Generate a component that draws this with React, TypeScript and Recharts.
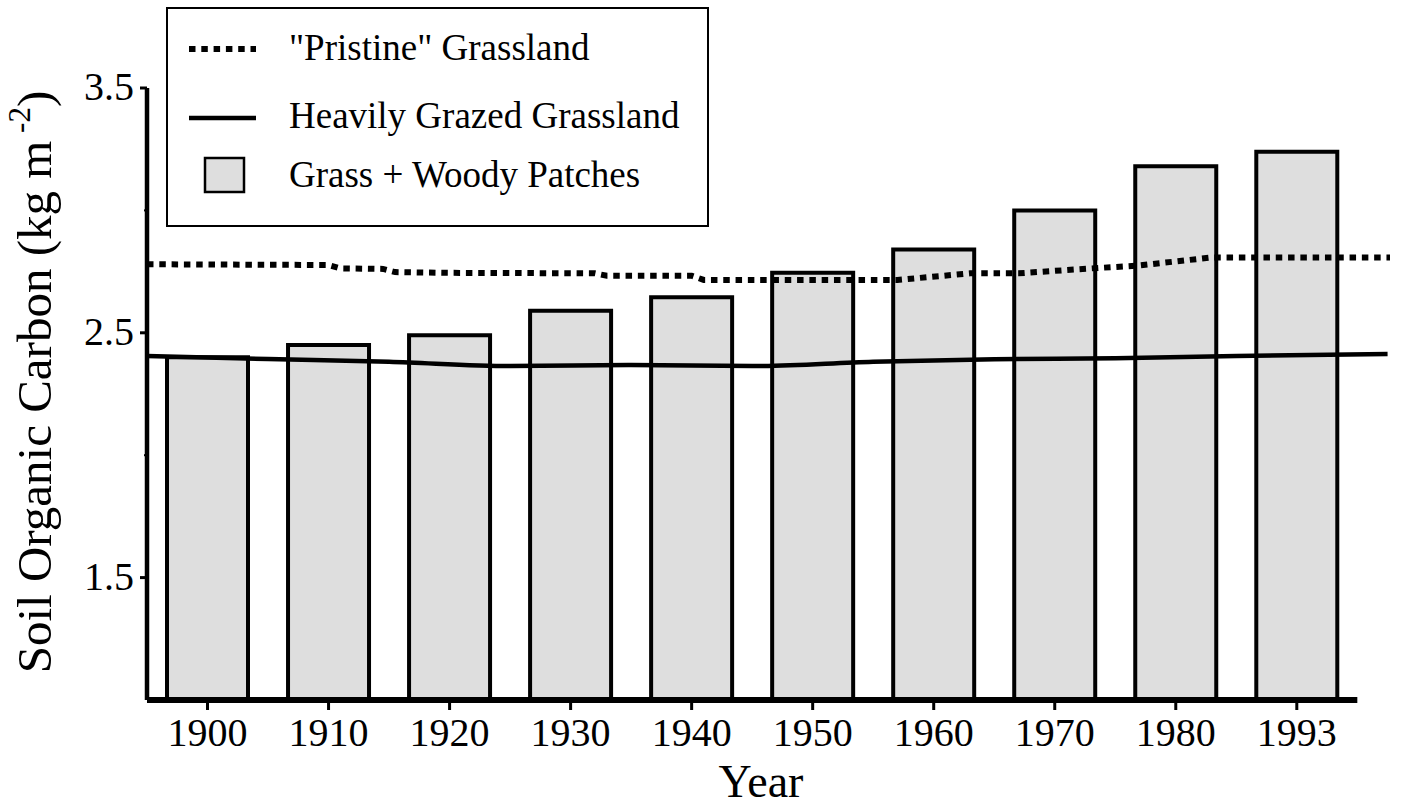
import { ComposedChart, Bar, Line, XAxis, YAxis, Legend, ReferenceLine } from "recharts"

// bar categories (one slot per sampled year)
const yearLabels = ["1900", "1910", "1920", "1930", "1940", "1950", "1960", "1970", "1980", "1993"]
const slotPos = [0, 1, 2, 3, 4, 5, 6, 7, 8, 9]
const woodyCarbon = [2.4, 2.45, 2.49, 2.59, 2.645, 2.745, 2.84, 3.0, 3.18, 3.24]

// "Pristine" grassland trace (x in slot units)
const pristinePos = [-0.5, 1.0, 1.1, 1.45, 1.55, 1.95, 3.2, 3.3, 4.0, 4.1, 5.7, 6.3, 6.7, 7.3, 7.7, 8.3, 9.77]
const pristineCarbon = [2.78, 2.777, 2.763, 2.761, 2.748, 2.745, 2.743, 2.733, 2.733, 2.716, 2.716, 2.743, 2.743, 2.763, 2.775, 2.808, 2.808]

// heavily grazed grassland trace
const grazedPos = [-0.5, 0.5, 1.5, 2.5, 3.5, 4.5, 5.5, 6.5, 7.5, 8.5, 9.75]
const grazedCarbon = [2.405, 2.393, 2.382, 2.364, 2.368, 2.364, 2.382, 2.392, 2.396, 2.405, 2.413]

const yTicks = [1.5, 2, 2.5, 3, 3.5]
const yLabelTicks = [1.5, 2.5, 3.5]
const xDomain = [-0.5, 9.77]

const FONT = "'Liberation Serif', 'Times New Roman', serif"

const barData = slotPos.map((pos, i) => ({ pos, woody: woodyCarbon[i] }))
const pristineData = pristinePos.map((pos, i) => ({ pos, pristine: pristineCarbon[i] }))
const grazedData = grazedPos.map((pos, i) => ({ pos, grazed: grazedCarbon[i] }))

function YTick(props: any) {
  const { x, y, payload } = props
  const major = yLabelTicks.includes(payload.value)
  const axisX = x + 13
  return (
    <g>
      <line x1={axisX - (major ? 7 : 3)} x2={axisX} y1={y} y2={y} stroke="#000" strokeWidth={major ? 3 : 2} />
      {major && (
        <text x={x} y={y} dy="0.3em" textAnchor="end" fontFamily={FONT} fontSize={40} fill="#000">
          {payload.value.toFixed(1)}
        </text>
      )}
    </g>
  )
}

function YLabel(props: any) {
  const { viewBox } = props
  const cx = viewBox.x + 51
  const cy = 382
  return (
    <text transform={`rotate(-90, ${cx}, ${cy})`} x={cx} y={cy} textAnchor="middle" fontFamily={FONT} fontSize={49} fill="#000">
      Soil Organic Carbon (kg m
      <tspan fontSize={31} dy={-21}> -2</tspan>
      <tspan dy={21}>)</tspan>
    </text>
  )
}

function XLabel(props: any) {
  const { viewBox } = props
  return (
    <text x={761} y={viewBox.y + 97} textAnchor="middle" fontFamily={FONT} fontSize={46} fill="#000">
      Year
    </text>
  )
}

function LegendBox() {
  return (
    <svg width={544} height={221} style={{ display: "block" }}>
      <rect x={1} y={1} width={541} height={218} fill="#fff" stroke="#000" strokeWidth={2} />
      <line x1={23} x2={90} y1={42} y2={42} stroke="#000" strokeWidth={6} strokeDasharray="6.5 5.8" />
      <text x={123} y={53} fontFamily={FONT} fontSize={37} fill="#000">"Pristine" Grassland</text>
      <line x1={23} x2={90} y1={111} y2={111} stroke="#000" strokeWidth={4.5} />
      <text x={123} y={121} fontFamily={FONT} fontSize={37} fill="#000">Heavily Grazed Grassland</text>
      <rect x={39} y={151} width={39} height={34} fill="#dedede" stroke="#000" strokeWidth={2.5} />
      <text x={123} y={180} fontFamily={FONT} fontSize={37} fill="#000">Grass + Woody Patches</text>
    </svg>
  )
}

export default function App() {
  return (
    <div style={{ position: "absolute", left: 0, top: 0, background: "#fff" }}>
      <ComposedChart
        width={1403}
        height={808}
        data={barData}
        margin={{ top: 88, right: 13, bottom: 0, left: 0 }}
      >
        <XAxis
          xAxisId="bars"
          dataKey="pos"
          type="number"
          domain={xDomain}
          allowDataOverflow
          ticks={slotPos}
          interval={0}
          tickFormatter={(v: number) => yearLabels[v]}
          axisLine={false}
          tickLine={{ stroke: "#000", strokeWidth: 3 }}
          tickSize={10}
          tickMargin={8}
          tick={{ fontFamily: FONT, fontSize: 40, fill: "#000" }}
          height={108}
          label={{ content: XLabel }}
        />
        <XAxis xAxisId="lines" dataKey="pos" type="number" domain={xDomain} allowDataOverflow hide />
        <YAxis
          domain={[1, 3.5]}
          ticks={yTicks}
          allowDataOverflow
          width={147}
          axisLine={{ stroke: "#000", strokeWidth: 4.5 }}
          tickLine={{ stroke: "none" }}
          tickSize={7}
          tickMargin={6}
          tick={<YTick />}
          label={{ content: YLabel }}
        />
        <Legend
          layout="vertical"
          align="center"
          verticalAlign="middle"
          content={() => <LegendBox />}
          wrapperStyle={{ left: 166, top: 7, width: 544, height: 221 }}
        />
        <Line
          xAxisId="lines"
          data={pristineData}
          dataKey="pristine"
          type="linear"
          stroke="#000"
          strokeWidth={6}
          strokeDasharray="6.5 5.8"
          dot={false}
          activeDot={false}
          isAnimationActive={false}
        />
        <Line
          xAxisId="lines"
          data={grazedData}
          dataKey="grazed"
          type="monotone"
          stroke="#000"
          strokeWidth={4.5}
          dot={false}
          activeDot={false}
          isAnimationActive={false}
        />
        <Bar
          xAxisId="bars"
          dataKey="woody"
          barSize={81}
          fill="#dedede"
          stroke="#000"
          strokeWidth={4}
          isAnimationActive={false}
        />
        <ReferenceLine
          xAxisId="bars"
          segment={[{ x: -0.5, y: 1 }, { x: 9.5, y: 1 }]}
          stroke="#000"
          strokeWidth={6}
          ifOverflow="visible"
        />
      </ComposedChart>
    </div>
  )
}
